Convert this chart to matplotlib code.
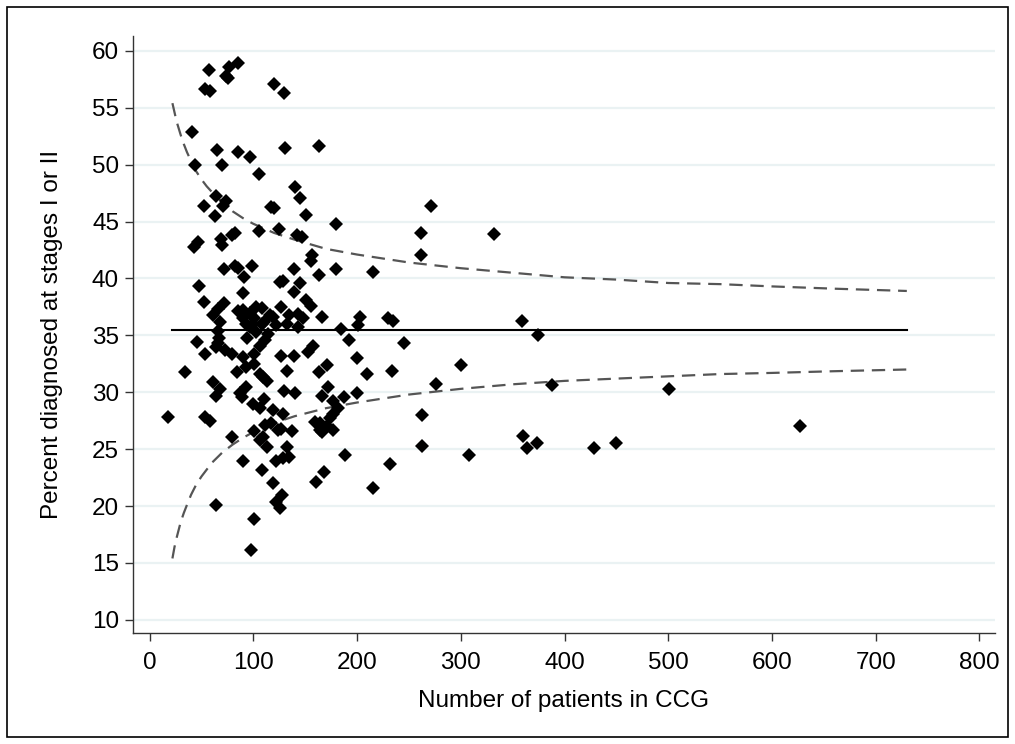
import matplotlib
matplotlib.use("Agg")
import matplotlib.pyplot as plt
from matplotlib.patches import Rectangle

plt.rcParams['font.family'] = ['Liberation Sans', 'DejaVu Sans']

# Number of patients in each CCG and percent diagnosed at stage I/II
patients = [85, 77, 74, 76, 57, 53, 58, 120, 130, 41, 65, 85, 97, 131, 163, 44, 70, 105,
            140, 145, 64, 52, 74, 71, 63, 117, 120, 151, 180, 271,
            105, 125, 47, 43, 69, 70, 82, 79, 142, 147, 157, 156, 262, 262, 332,
            72, 82, 85, 99, 139, 163, 180, 215, 91,
            48, 126, 129, 145, 90, 139, 151, 156, 52, 72, 66, 90, 97, 103, 108, 116, 127,
            61, 68, 66, 119, 90, 101, 108, 97, 103, 122, 134, 143, 148, 132, 143, 166,
            185, 203, 201, 230, 235, 359, 374, 114, 93, 110, 85, 100,
            67, 66, 111, 106, 46, 53, 73, 79, 90, 101, 127, 139, 153, 158, 192, 245,
            200, 94, 64,
            34, 84, 93, 101, 106, 113, 109, 132, 171, 163, 210, 234, 300, 61, 68, 64,
            87, 93, 89, 130, 140, 172, 200, 276, 388, 501,
            100, 110, 106, 119, 129, 166, 177, 187, 182, 177, 174, 18, 53, 58, 263, 627,
            164, 171, 159, 117, 111,
            79, 101, 124, 137, 127, 106, 113, 109, 132, 134, 122, 166, 177, 164, 90, 188,
            232, 263, 308, 360, 364, 373, 428, 450, 129,
            108, 119, 168, 160, 215, 128, 122, 126, 64, 101, 98]
percent = [58.9, 58.6, 57.8, 57.6, 58.3, 56.6, 56.5, 57.1, 56.3, 52.9, 51.3, 51.1, 50.7,
           51.5, 51.6, 50.0, 50.0, 49.2,
           48.0, 47.1, 47.2, 46.4, 46.8, 46.4, 45.5, 46.3, 46.2, 45.6, 44.8, 46.4,
           44.2, 44.3, 43.2, 42.8, 43.5, 42.9, 44.0, 43.8, 43.8, 43.6, 42.1, 41.5, 44.0,
           42.1, 43.9,
           40.8, 41.1, 40.9, 41.1, 40.8, 40.3, 40.8, 40.6, 40.1,
           39.3, 39.7, 39.8, 39.6, 38.7, 38.8, 38.1, 37.6, 37.9, 37.8, 37.3, 37.2, 37.0,
           37.5, 37.4, 36.8, 37.5,
           36.8, 36.2, 35.4, 36.6, 36.5, 36.5, 36.0, 35.7, 35.3, 35.9, 36.8, 36.9, 36.5,
           36.0, 35.7, 36.6,
           35.6, 36.6, 35.9, 36.5, 36.3, 36.3, 35.0, 35.1, 36.0, 36.2, 37.1, 36.0,
           34.8, 34.3, 34.6, 34.1, 34.4, 33.4, 33.7, 33.4, 33.1, 33.4, 33.2, 33.2, 33.5,
           34.1, 34.6, 34.3,
           33.0, 34.8, 34.0,
           31.8, 31.8, 32.2, 32.5, 31.6, 31.0, 31.3, 31.9, 32.4, 31.8, 31.6, 31.9, 32.4,
           30.9, 30.3, 29.7,
           29.9, 30.5, 29.6, 30.1, 29.9, 30.5, 29.9, 30.7, 30.6, 30.3,
           29.0, 29.4, 28.6, 28.4, 28.1, 29.7, 29.2, 29.6, 28.6, 28.1, 27.7, 27.8, 27.8,
           27.5, 28.0, 27.0,
           27.3, 27.0, 27.4, 27.3, 27.1,
           26.1, 26.6, 26.7, 26.6, 26.8, 25.8, 25.2, 26.1, 25.2, 24.3, 24.0, 26.5, 26.7,
           26.7, 24.0, 24.5,
           23.7, 25.3, 24.5, 26.2, 25.1, 25.5, 25.1, 25.5, 24.2,
           23.2, 22.0, 23.0, 22.1, 21.6, 21.0, 20.4, 19.8, 20.1, 18.9, 16.1]

# Overall mean and 95% control limits
mean_pct = 35.45
limit_n = [22, 24, 26, 28, 30, 33, 36, 40, 45, 50, 55, 60, 70, 80, 90, 100, 120, 140,
           170, 200, 250, 300, 350, 400, 450, 500, 550, 600, 660, 730]
upper_limit = [55.4, 54.6, 53.8, 53.2, 52.6, 51.8, 51.1, 50.3, 49.4, 48.7, 48.1, 47.6,
               46.7, 45.9, 45.3, 44.8, 44.0, 43.4, 42.6, 42.1, 41.4, 40.9, 40.5, 40.1,
               39.9, 39.6, 39.5, 39.3, 39.1, 38.9]
lower_limit = [15.4, 16.4, 17.2, 17.9, 18.6, 19.4, 20.1, 21.0, 21.9, 22.6, 23.2, 23.8,
               24.7, 25.4, 26.0, 26.5, 27.3, 27.9, 28.6, 29.1, 29.8, 30.3, 30.7, 31.0,
               31.2, 31.4, 31.6, 31.7, 31.85, 32.0]

x_ticks = [0, 100, 200, 300, 400, 500, 600, 700, 800]
y_ticks = [10, 15, 20, 25, 30, 35, 40, 45, 50, 55, 60]

fig = plt.figure(figsize=(10.15, 7.44), dpi=100)
W, H = 1015, 744
ax = fig.add_axes([133 / W, 111 / H, (995 - 133) / W, (708 - 111) / H])

grid_col = '#EAF2F3'
for yt in y_ticks:
    ax.axhline(yt, color=grid_col, lw=1.6, zorder=0)

ax.plot([limit_n[0], limit_n[-1]], [mean_pct, mean_pct], color='black', lw=1.5, zorder=2)
ax.plot(limit_n, upper_limit, color='#555555', lw=1.6, dashes=(6, 3.5), zorder=2)
ax.plot(limit_n, lower_limit, color='#555555', lw=1.6, dashes=(6, 3.5), zorder=2)

ax.plot(patients, percent, linestyle='none', marker='D', markersize=7.6,
        markerfacecolor='black', markeredgecolor='black', markeredgewidth=0, zorder=3)

ax.set_xlim(-16, 815)
ax.set_ylim(8.85, 61.3)
ax.set_xticks(x_ticks)
ax.set_yticks(y_ticks)

for s in ['top', 'right']:
    ax.spines[s].set_visible(False)
for s in ['left', 'bottom']:
    ax.spines[s].set_color('#333333')
    ax.spines[s].set_linewidth(1.0)

ax.tick_params(axis='y', direction='out', length=6, width=1.0, color='#333333',
               labelsize=17.5, labelcolor='black', pad=4)
ax.tick_params(axis='x', direction='out', length=6, width=1.0, color='#333333',
               labelsize=17.5, labelcolor='black', pad=8)

ax.set_xlabel('Number of patients in CCG', fontsize=17.5, labelpad=11)
ax.set_ylabel('Percent diagnosed at stages I or II', fontsize=17.5, labelpad=21)

fig.patches.append(Rectangle((7 / W, 7 / H), (1008 - 7) / W, (737 - 7) / H,
                             transform=fig.transFigure, fill=False,
                             edgecolor='black', lw=1.2))

fig.savefig('out.png', dpi=100, facecolor='white')
